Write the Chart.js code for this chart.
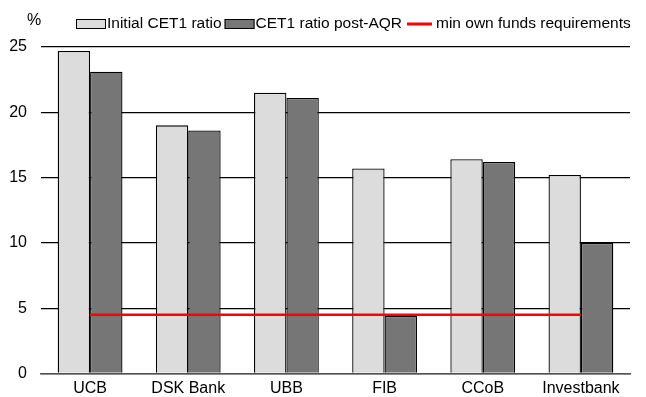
<!DOCTYPE html>
<html>
<head>
    <title>CET1 ratio</title>
    <style>
        html, body { margin: 0; padding: 0; background: #fff; overflow: hidden; }
        canvas { display: block; }
    </style>
    <script src="https://cdn.jsdelivr.net/npm/chart.js"></script>
</head>
<body>
    <canvas id="chartCet1" width="646" height="397"></canvas>

    <script>
        var bancos = ['UCB', 'DSK Bank', 'UBB', 'FIB', 'CCoB', 'Investbank'];
        var cet1Inicial = [24.7, 19.0, 21.5, 15.7, 16.4, 15.2];
        var cet1PosAqr = [23.1, 18.6, 21.1, 4.4, 16.2, 10.0];
        var minimoFundos = [4.5, 4.5, 4.5, 4.5, 4.5, 4.5];
        var ticksY = [0, 5, 10, 15, 20, 25];

        var fonte = '"Liberation Sans", Arial, sans-serif';
        Chart.defaults.font.family = fonte;
        Chart.defaults.font.size = 16;
        Chart.defaults.color = '#000';

        // legenda desenhada à mão numa só linha + rótulo "%" do eixo y
        var legendaManual = {
            id: 'legendaManual',
            afterDraw: function(chart) {
                var ctx = chart.ctx;
                ctx.save();
                ctx.font = '16px ' + fonte;
                ctx.fillStyle = '#000';
                ctx.textBaseline = 'middle';
                ctx.textAlign = 'left';
                ctx.fillText('%', 27, 21);

                ctx.font = '15.5px ' + fonte;
                var x = 76, y = 24;
                chart.data.datasets.forEach(function(ds) {
                    if (ds.type === 'line') {
                        ctx.strokeStyle = ds.borderColor;
                        ctx.lineWidth = 3;
                        ctx.beginPath();
                        ctx.moveTo(x + 2, y);
                        ctx.lineTo(x + 27, y);
                        ctx.stroke();
                        x += 30;
                    } else {
                        ctx.fillStyle = ds.backgroundColor;
                        ctx.fillRect(x, y - 5, 30, 10);
                        ctx.strokeStyle = '#000';
                        ctx.lineWidth = 1;
                        ctx.strokeRect(x + 0.5, y - 4.5, 29, 9);
                        x += 30;
                    }
                    ctx.fillStyle = '#000';
                    ctx.fillText(ds.label, x + 1, y);
                    x += ctx.measureText(ds.label).width + 4;
                });
                ctx.restore();
            }
        };

        var ctx = document.getElementById('chartCet1').getContext('2d');
        var chart = new Chart(ctx, {
            type: 'bar',
            data: {
                labels: bancos,
                datasets: [{
                    label: 'Initial CET1 ratio',
                    data: cet1Inicial,
                    backgroundColor: '#dcdcdc',
                    borderColor: '#000',
                    borderWidth: 1.3,
                    order: 2
                }, {
                    label: 'CET1 ratio post-AQR',
                    data: cet1PosAqr,
                    backgroundColor: '#767676',
                    borderColor: '#000',
                    borderWidth: 1.3,
                    order: 2
                }, {
                    type: 'line',
                    label: 'min own funds requirements',
                    data: minimoFundos,
                    borderColor: '#ff0000',
                    backgroundColor: '#ff0000',
                    borderWidth: 2.5,
                    pointRadius: 0,
                    order: 1
                }]
            },
            options: {
                responsive: false,
                animation: false,
                layout: { padding: { left: 0, right: 16, top: 47, bottom: 0 } },
                datasets: {
                    bar: { barPercentage: 1, categoryPercentage: 0.66 }
                },
                plugins: {
                    legend: { display: false },
                    tooltip: { enabled: false }
                },
                scales: {
                    x: {
                        grid: { display: false, drawTicks: false, tickLength: 0 },
                        border: { color: '#555', width: 1.5 },
                        ticks: { padding: 6 },
                        afterFit: function(scale) { scale.height = 20; }
                    },
                    y: {
                        min: 0,
                        max: 25,
                        afterBuildTicks: function(axis) {
                            axis.ticks = ticksY.map(function(v) { return { value: v }; });
                        },
                        afterFit: function(scale) { scale.width = 41; },
                        grid: { color: '#000', lineWidth: 1.2, drawTicks: false },
                        border: { display: false },
                        ticks: { padding: 14 }
                    }
                }
            },
            plugins: [legendaManual]
        });
    </script>
</body>
</html>
